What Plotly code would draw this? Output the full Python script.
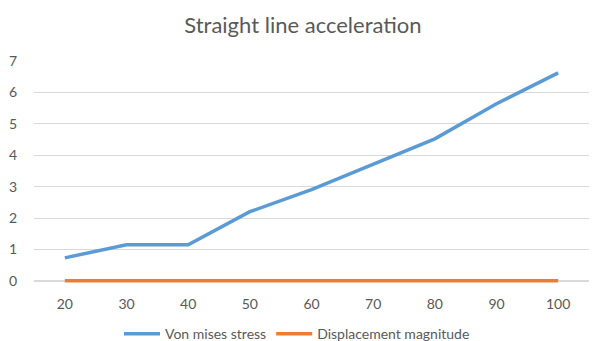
import plotly.graph_objects as go

categories = ["20", "30", "40", "50", "60", "70", "80", "90", "100"]
von_mises = [0.73, 1.15, 1.15, 2.2, 2.9, 3.7, 4.52, 5.64, 6.62]
displacement = [0, 0, 0, 0, 0, 0, 0, 0, 0]
y_ticks = [0, 1, 2, 3, 4, 5, 6, 7]

fig = go.Figure()
fig.add_trace(go.Scatter(x=categories, y=von_mises, mode="lines", name="Von mises stress",
                         line=dict(color="#5B9BD5", width=3.5)))
fig.add_trace(go.Scatter(x=categories, y=displacement, mode="lines", name="Displacement magnitude",
                         line=dict(color="#ED7D31", width=3.5)))

fig.update_layout(
    width=594, height=341,
    margin=dict(l=34, r=5, t=61, b=58),
    paper_bgcolor="white", plot_bgcolor="white",
    font=dict(family="Lato, 'Noto Sans', sans-serif", color="#595959", size=14),
    title=dict(text="Straight line acceleration", x=0.51, xanchor="center", y=0.925, yanchor="middle",
               font=dict(size=22, color="#595959")),
    xaxis=dict(type="category", range=[-0.5, 8.5], showgrid=False, showline=False, zeroline=False,
               ticks="outside", ticklen=8, tickcolor="rgba(0,0,0,0)",
               tickfont=dict(size=14, color="#595959"), fixedrange=True),
    yaxis=dict(range=[-0.07, 7], tickvals=y_ticks, showgrid=True, gridcolor="#D9D9D9", gridwidth=1,
               zeroline=True, zerolinecolor="#D9D9D9", showline=False,
               ticks="outside", ticklen=13, tickcolor="rgba(0,0,0,0)",
               tickfont=dict(size=14, color="#595959"), fixedrange=True),
    legend=dict(orientation="h", x=0.5, xanchor="center", xref="container",
                y=0.02, yanchor="middle", yref="container",
                font=dict(size=14, color="#595959"), itemwidth=36, bgcolor="rgba(0,0,0,0)"),
    showlegend=True,
)

fig.write_html("out.html")
